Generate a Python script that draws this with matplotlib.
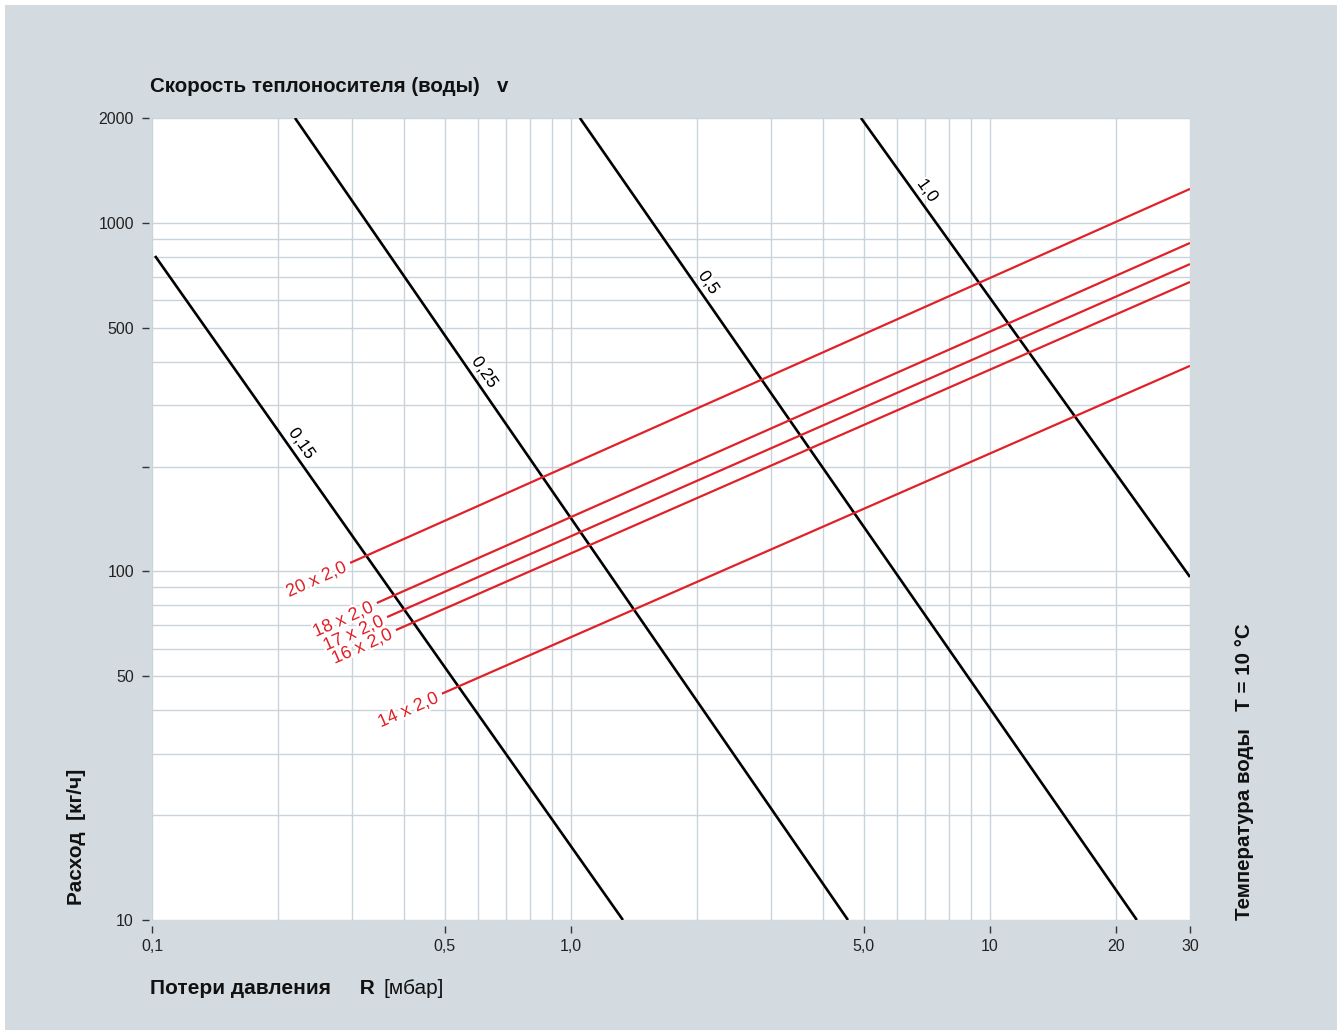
import numpy as np
import matplotlib
matplotlib.use('Agg')
import matplotlib.pyplot as plt
from matplotlib.ticker import LogLocator, FixedLocator, FixedFormatter, NullFormatter
from matplotlib.patches import Rectangle
import matplotlib.patheffects as pe

plt.rcParams['font.family'] = ['Liberation Sans', 'DejaVu Sans']

# velocity lines v [m/s]: endpoints (R in mbar, flow in kg/h)
v_labels = ['0,15', '0,25', '0,5', '1,0']
v_R0 = [0.1017, 0.2194, 1.05, 4.92]
v_m0 = [804, 2000, 2000, 2000]
v_R1 = [1.33, 4.58, 22.4, 30]
v_m1 = [10, 10, 10, 96.4]
v_Rlab = [0.216, 0.59, 2.02, 6.73]

# pipe lines (d x s)
pipe_labels = ['20 x 2,0', '18 x 2,0', '17 x 2,0', '16 x 2,0', '14 x 2,0']
pipe_R0 = [0.297, 0.344, 0.364, 0.382, 0.492]
pipe_m0 = [105.8, 81.2, 74.0, 67.9, 44.6]
pipe_R1 = [30, 30, 30, 30, 30]
pipe_m1 = [1252, 876, 762, 677, 389]

xticks = [0.1, 0.5, 1, 5, 10, 20, 30]
xticklabels = ['0,1', '0,5', '1,0', '5,0', '10', '20', '30']
yticks = [10, 50, 100, 200, 500, 1000, 2000]
yticklabels = ['10', '50', '100', '', '500', '1000', '2000']

bg = '#d3dbe1'
gridc = '#c9d3db'
red = '#e02228'
txtc = '#111111'

W, H = 1337, 1030
fig = plt.figure(figsize=(W / 100, H / 100), dpi=100, facecolor='white')
fig.patches.append(Rectangle((5 / W, 0), 1, 1 - 5 / H, transform=fig.transFigure,
                             facecolor=bg, edgecolor='none', zorder=-10))

ax = fig.add_axes([152 / W, 1 - 920 / H, (1190 - 152) / W, (920 - 118) / H])
ax.set_facecolor('white')
ax.set_xscale('log')
ax.set_yscale('log')
ax.set_xlim(0.1, 30)
ax.set_ylim(10, 2000)

for s in ax.spines.values():
    s.set_visible(False)
ax.spines['left'].set_position(('outward', 2))
ax.spines['bottom'].set_position(('outward', 4))

ax.xaxis.set_major_locator(FixedLocator(xticks))
ax.xaxis.set_major_formatter(FixedFormatter(xticklabels))
ax.yaxis.set_major_locator(FixedLocator(yticks))
ax.yaxis.set_major_formatter(FixedFormatter(yticklabels))
ax.xaxis.set_minor_locator(LogLocator(base=10, subs=np.arange(1, 10), numticks=50))
ax.yaxis.set_minor_locator(LogLocator(base=10, subs=np.arange(1, 10), numticks=50))
ax.xaxis.set_minor_formatter(NullFormatter())
ax.yaxis.set_minor_formatter(NullFormatter())
ax.tick_params(which='minor', length=0)
ax.tick_params(which='major', length=5, width=1, color='#333333', labelcolor='#222222',
               labelsize=11.5, direction='out')
ax.tick_params(axis='x', pad=5)
ax.tick_params(axis='y', pad=6)
ax.grid(which='both', color=gridc, linewidth=1, zorder=0)
ax.set_axisbelow(True)

# velocity lines
for lab, r0, m0, r1, m1, rl in zip(v_labels, v_R0, v_m0, v_R1, v_m1, v_Rlab):
    ax.plot([r0, r1], [m0, m1], color='black', lw=1.9, solid_capstyle='butt', zorder=3)
    p0 = ax.transData.transform((r0, m0))
    p1 = ax.transData.transform((r1, m1))
    ang = np.degrees(np.arctan2(p1[1] - p0[1], p1[0] - p0[0]))
    ml = 10 ** np.interp(np.log10(rl), [np.log10(r0), np.log10(r1)], [np.log10(m0), np.log10(m1)])
    a = np.radians(ang)
    off = 8.5
    ax.annotate(lab, (rl, ml), xytext=(-np.sin(a) * off, np.cos(a) * off), textcoords='offset points',
                rotation=ang, rotation_mode='anchor', ha='center', va='center',
                fontsize=12.5, color='black', zorder=4,
                path_effects=[pe.withStroke(linewidth=3, foreground='white')])

# pipe lines
for lab, r0, m0, r1, m1 in zip(pipe_labels, pipe_R0, pipe_m0, pipe_R1, pipe_m1):
    ax.plot([r0, r1], [m0, m1], color=red, lw=1.6, solid_capstyle='butt', zorder=3)
    p0 = ax.transData.transform((r0, m0))
    p1 = ax.transData.transform((r1, m1))
    ang = np.degrees(np.arctan2(p1[1] - p0[1], p1[0] - p0[0]))
    a = np.radians(ang)
    off = 3.5
    ax.annotate(lab, (r0, m0), xytext=(-np.cos(a) * off, -np.sin(a) * off - 1.5), textcoords='offset points',
                rotation=ang, rotation_mode='anchor', ha='right', va='center',
                fontsize=13, color=red, zorder=5, annotation_clip=False,
                path_effects=[pe.withStroke(linewidth=3.5, foreground='white')])

# titles
fs = 14.75
fig.text(150 / W, 1 - 87 / H, 'Скорость теплоносителя (воды)   v', fontsize=fs,
         fontweight='bold', ha='left', va='center', color=txtc)

t1 = fig.text(150 / W, 1 - 989 / H, 'Потери давления     R', fontsize=15,
              fontweight='bold', ha='left', va='center', color=txtc)
r = fig.canvas.get_renderer()
bb = t1.get_window_extent(renderer=r)
fig.text((bb.x1 + 9) / W, 1 - 989 / H, '[мбар]', fontsize=15,
         ha='left', va='center', color=txtc)

fig.text(77 / W, 1 - 905 / H, 'Расход  [кг/ч]', fontsize=15, fontweight='bold',
         rotation=90, rotation_mode='anchor', ha='left', va='center', color=txtc)
fig.text(1245 / W, 1 - 920 / H, 'Температура воды   T = 10 °C', fontsize=fs,
         fontweight='bold', rotation=90, rotation_mode='anchor', ha='left', va='center',
         color=txtc)

fig.savefig('out.png', dpi=100, facecolor=fig.get_facecolor())
